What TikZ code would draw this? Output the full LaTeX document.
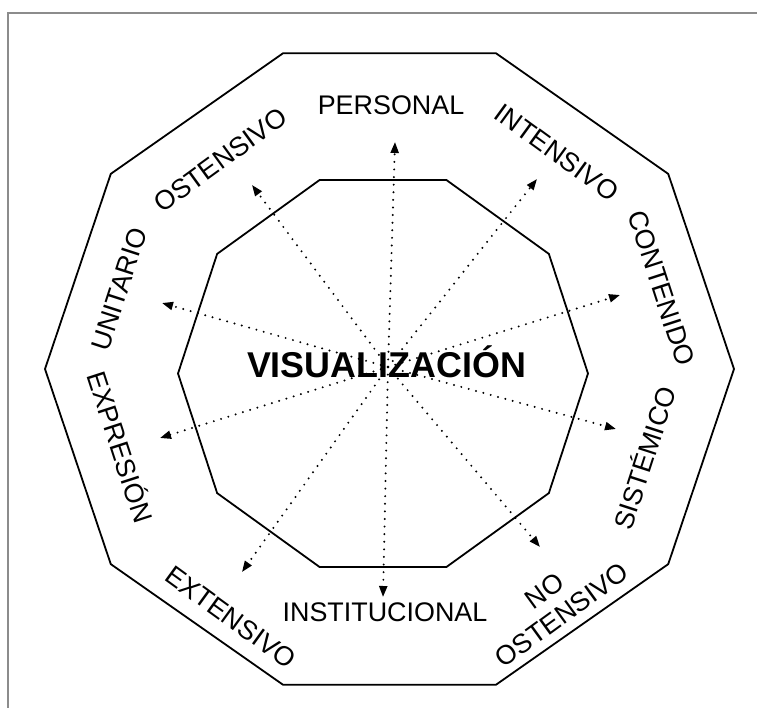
\documentclass[tikz,border=0pt]{standalone}
\usepackage{fontspec}
\setmainfont{Liberation Sans}
\usetikzlibrary{arrows.meta}
\begin{document}
\begin{tikzpicture}[x=1bp,y=-1bp,
  poly/.style={line width=1.8bp, line join=miter},
  ray/.style={line width=2.2bp, dash pattern=on 0bp off 7.6bp, line cap=round,
              -{Triangle[length=11bp,width=8bp]}},
  lab/.style={font=\fontsize{27}{30}\selectfont, inner sep=0pt, text height=19.3bp, text depth=0bp},
  lab2/.style={font=\fontsize{27}{30}\selectfont, inner sep=0pt, align=center},
  frame/.style={draw=black!45, line width=1.4bp}]
\useasboundingbox (0,0) rectangle (757,708);
% frame
\draw[frame] (8,708) -- (8,13) -- (757,13);
% outer decagon
\draw[poly] ({389.5+344.5*cos(0)},{369-332*sin(0)})
  \foreach \a in {36,72,...,324} { -- ({389.5+344.5*cos(\a)},{369-332*sin(\a)}) } -- cycle;
% inner decagon
\draw[poly] ({383+205*cos(0)},{373.5-203.5*sin(0)})
  \foreach \a in {36,72,...,324} { -- ({383+205*cos(\a)},{373.5-203.5*sin(\a)}) } -- cycle;
% rays
\coordinate (c) at (388,367);
\coordinate (tPer) at (395,142);
\coordinate (tInt) at (537,179);
\coordinate (tCon) at (620,295);
\coordinate (tSis) at (616,429);
\coordinate (tNo)  at (540,547);
\coordinate (tIns) at (383,597);
\coordinate (tExt) at (242,572);
\coordinate (tExp) at (160,438);
\coordinate (tUni) at (162,303);
\coordinate (tOst) at (252,185);
\foreach \t in {tPer,tInt,tCon,tSis,tNo,tIns,tExt,tExp,tUni,tOst}
  \draw[ray] (c) -- (\t);
% title
\node[font=\bfseries\fontsize{36}{40}\selectfont, anchor=base, inner sep=0pt] (vis) at (386.5,377) {VISUALIZACIÓN};
% labels
\node[lab] (personal) at (391,105) {PERSONAL};
\node[lab, rotate=-36] (intensivo) at (557,152) {INTENSIVO};
\node[lab, rotate=-72] (contenido) at (662,288) {CONTENIDO};
\node[lab, rotate=72] (sistemico) at (645,458) {SISTÉMICO};
\node[lab2, rotate=36] (noost) at (553,603) {NO\\OSTENSIVO};
\node[lab] (institucional) at (385,612) {INSTITUCIONAL};
\node[lab, rotate=-36] (extensivo) at (231,617) {EXTENSIVO};
\node[lab, rotate=-72] (expresion) at (120,447) {EXPRESIÓN};
\node[lab, rotate=72] (unitario) at (119,289) {UNITARIO};
\node[lab, rotate=36] (ostensivo) at (220,160) {OSTENSIVO};
\end{tikzpicture}
\end{document}
